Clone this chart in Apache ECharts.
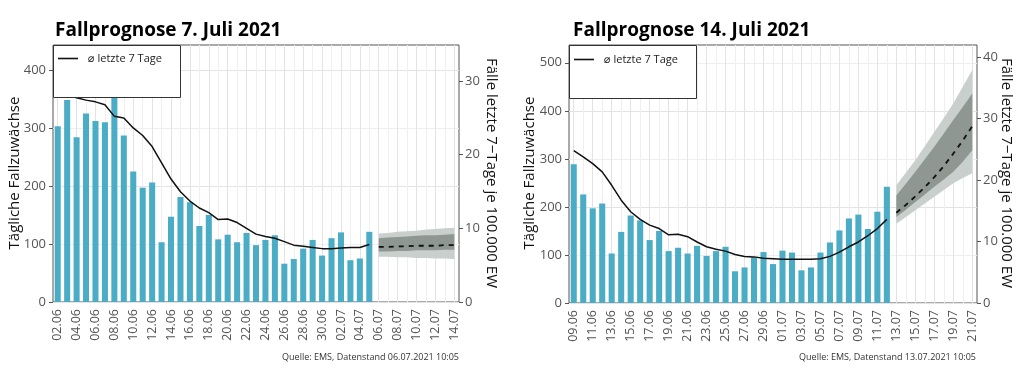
<!DOCTYPE html>
<html><head><meta charset="utf-8">
<script src="https://cdn.jsdelivr.net/npm/echarts@6/dist/echarts.min.js"></script>
<style>html,body{margin:0;padding:0;background:#fff}#c{width:1024px;height:371px}</style>
</head><body><div id="c"></div>
<script>
// ---- Panel A: Fallprognose 7. Juli 2021 ----
const datesA = ['02.06','03.06','04.06','05.06','06.06','07.06','08.06','09.06','10.06','11.06','12.06','13.06','14.06','15.06','16.06','17.06','18.06','19.06','20.06','21.06','22.06','23.06','24.06','25.06','26.06','27.06','28.06','29.06','30.06','01.07','02.07','03.07','04.07','05.07','06.07','07.07','08.07','09.07','10.07','11.07','12.07','13.07','14.07'];
const casesA = [303,348,284,325,312,310,365,287,225,197,206,103,147,181,172,131,150,108,116,103,119,98,107,115,66,74,92,107,80,110,120,72,75,121];
const avgA = [362,357,352,348,345,340,320,317,300,287,268,240,212,190,174,162,154,142,143,137,127,117,113,110,104,98,96,94,92,92,93,94,94,99];
const fcStartA = 34;
const fcA = [95,95,96,96,97,97,97,98,98];
const innerLoA = [87,87,88,88,89,89,89,90,90];
const innerHiA = [110,111,112,113,114,115,115,116,117];
const outerLoA = [78,78,77,77,76,76,75,75,74];
const outerHiA = [118,119,121,122,123,125,126,127,128];
const leftTicksA = [0,100,200,300,400];
const rightTicksA = [0,10,20,30];
const yMaxA = 443, ratioA = 12.7;

// ---- Panel B: Fallprognose 14. Juli 2021 ----
const datesB = ['09.06','10.06','11.06','12.06','13.06','14.06','15.06','16.06','17.06','18.06','19.06','20.06','21.06','22.06','23.06','24.06','25.06','26.06','27.06','28.06','29.06','30.06','01.07','02.07','03.07','04.07','05.07','06.07','07.07','08.07','09.07','10.07','11.07','12.07','13.07','14.07','15.07','16.07','17.07','18.07','19.07','20.07','21.07'];
const casesB = [289,226,197,207,103,148,182,172,131,150,108,115,103,119,98,108,117,66,74,95,106,81,109,105,68,74,105,126,151,176,184,154,190,242];
const avgB = [317,304,290,273,245,214,190,174,162,155,142,143,138,127,117,112,108,101,97,96,93,92,91,91,91,91,92,97,106,117,127,140,155,174];
const fcStartB = 34;
const fcB = [188,204,222,241,262,285,311,338,368];
const innerLoB = [179,194,210,226,242,257,273,294,318];
const innerHiB = [224,248,273,299,325,353,381,408,436];
const outerLoB = [165,179,193,207,221,235,249,260,270];
const outerHiB = [245,271,297,326,356,385,415,450,485];
const leftTicksB = [0,100,200,300,400,500];
const rightTicksB = [0,10,20,30,40];
const yMaxB = 537, ratioB = 12.81;

const legendName = '⌀ letzte 7 Tage';
const FONT = '"Open Sans", "DejaVu Sans", sans-serif';
const BAR = '#4bacc6', LIGHT = '#c9cfcc', DARK = '#8e9792', AX = '#555', TXT = '#555';

function pad(arr, start, total) {
  const out = new Array(total).fill(null);
  arr.forEach((v, i) => { out[start + i] = v; });
  return out;
}
function diff(hi, lo) { return hi.map((v, i) => v - lo[i]); }

function xAxisFor(grid, dates) {
  return {
    gridIndex: grid, type: 'category', data: dates, boundaryGap: true,
    axisLine: { show: false },
    axisTick: { interval: 1, alignWithLabel: true, length: 4, lineStyle: { color: AX } },
    axisLabel: { interval: 1, rotate: 90, margin: 7, fontSize: 12.5, color: TXT, fontFamily: FONT },
    splitLine: { show: true, interval: 0, alignWithLabel: true, lineStyle: { color: ['#e3e3e3', '#efefef'], width: 1 } }
  };
}
function yLeft(grid, max, ticks) {
  return {
    gridIndex: grid, type: 'value', min: 0, max: max, interval: 50, position: 'left',
    axisLine: { show: false },
    axisTick: { show: true, length: 4, customValues: ticks, lineStyle: { color: AX } },
    axisLabel: { customValues: ticks, fontSize: 13, color: TXT, margin: 7, fontFamily: FONT },
    splitLine: { show: true, lineStyle: { color: ['#e3e3e3', '#efefef'], width: 1 } }
  };
}
function yRight(grid, max, ticks) {
  return {
    gridIndex: grid, type: 'value', min: 0, max: max, interval: 10, position: 'right',
    axisLine: { show: false },
    axisTick: { show: true, length: 4, customValues: ticks, lineStyle: { color: AX } },
    axisLabel: { customValues: ticks, fontSize: 13, color: TXT, margin: 6, fontFamily: FONT },
    splitLine: { show: false }
  };
}
function seriesFor(xi, yi, n, cases, avg, fcStart, fc, oLo, oHi, iLo, iHi) {
  const base = { xAxisIndex: xi, yAxisIndex: yi, symbol: 'none', silent: true };
  return [
    Object.assign({}, base, { type: 'bar', data: pad(cases, 0, n), barWidth: '64%', itemStyle: { color: BAR } }),
    Object.assign({}, base, { type: 'line', stack: 'o' + xi, data: pad(oLo, fcStart, n), lineStyle: { opacity: 0 } }),
    Object.assign({}, base, { type: 'line', stack: 'o' + xi, data: pad(diff(oHi, oLo), fcStart, n), lineStyle: { opacity: 0 }, areaStyle: { color: LIGHT, opacity: 1 } }),
    Object.assign({}, base, { type: 'line', stack: 'i' + xi, data: pad(iLo, fcStart, n), lineStyle: { opacity: 0 } }),
    Object.assign({}, base, { type: 'line', stack: 'i' + xi, data: pad(diff(iHi, iLo), fcStart, n), lineStyle: { opacity: 0 }, areaStyle: { color: DARK, opacity: 1 } }),
    Object.assign({}, base, { type: 'line', data: pad(fc, fcStart, n), lineStyle: { color: '#111', width: 1.8, type: [5, 5] } }),
    Object.assign({}, base, { type: 'line', name: legendName, data: pad(avg, 0, n), lineStyle: { color: '#111', width: 1.5 }, itemStyle: { color: '#111' } })
  ];
}

const chart = echarts.init(document.getElementById('c'), null, { renderer: 'canvas' });
const legendCommon = {
  data: [{ name: legendName, icon: 'rect' }], itemWidth: 20, itemHeight: 1.6, z: 20,
  textStyle: { fontSize: 11, color: '#222', fontFamily: FONT, padding: [0, 0, 0, 5] },
  selectedMode: false, padding: 0
};
chart.setOption({
  animation: false,
  backgroundColor: '#fff',
  grid: [
    { left: 53, right: 565, top: 45, bottom: 69, show: true, borderColor: AX, borderWidth: 1, backgroundColor: '#fff' },
    { left: 569, right: 47, top: 45, bottom: 68, show: true, borderColor: AX, borderWidth: 1, backgroundColor: '#fff' }
  ],
  xAxis: [xAxisFor(0, datesA), xAxisFor(1, datesB)],
  yAxis: [yLeft(0, yMaxA, leftTicksA), yRight(0, yMaxA / ratioA, rightTicksA), yLeft(1, yMaxB, leftTicksB), yRight(1, yMaxB / ratioB, rightTicksB)],
  legend: [
    Object.assign({}, legendCommon, { left: 58, top: 53 }),
    Object.assign({}, legendCommon, { left: 574, top: 54 })
  ],
  series: [].concat(
    seriesFor(0, 0, datesA.length, casesA, avgA, fcStartA, fcA, outerLoA, outerHiA, innerLoA, innerHiA),
    seriesFor(1, 2, datesB.length, casesB, avgB, fcStartB, fcB, outerLoB, outerHiB, innerLoB, innerHiB)
  ),
  graphic: [
    { type: 'rect', z: 15, shape: { x: 53.5, y: 45.5, width: 127, height: 52 }, style: { fill: '#fff', stroke: '#333', lineWidth: 1 } },
    { type: 'rect', z: 15, shape: { x: 569.5, y: 45.5, width: 127, height: 53 }, style: { fill: '#fff', stroke: '#333', lineWidth: 1 } },
    { type: 'text', x: 55, y: 31, style: { text: 'Fallprognose 7. Juli 2021', font: 'bold 19px "Open Sans", sans-serif', fill: '#000', textVerticalAlign: 'middle' } },
    { type: 'text', x: 573, y: 31, style: { text: 'Fallprognose 14. Juli 2021', font: 'bold 19px "Open Sans", sans-serif', fill: '#000', textVerticalAlign: 'middle' } },
    { type: 'text', x: 15, y: 173, rotation: Math.PI / 2, style: { text: 'Tägliche Fallzuwächse', font: '15px "Open Sans", sans-serif', fill: '#111', textAlign: 'center', textVerticalAlign: 'middle' } },
    { type: 'text', x: 530, y: 173, rotation: Math.PI / 2, style: { text: 'Tägliche Fallzuwächse', font: '15px "Open Sans", sans-serif', fill: '#111', textAlign: 'center', textVerticalAlign: 'middle' } },
    { type: 'text', x: 491, y: 173, rotation: -Math.PI / 2, style: { text: 'Fälle letzte 7−Tage je 100.000 EW', font: '15px "Open Sans", sans-serif', fill: '#111', textAlign: 'center', textVerticalAlign: 'middle' } },
    { type: 'text', x: 1006, y: 173, rotation: -Math.PI / 2, style: { text: 'Fälle letzte 7−Tage je 100.000 EW', font: '15px "Open Sans", sans-serif', fill: '#111', textAlign: 'center', textVerticalAlign: 'middle' } },
    { type: 'text', x: 459, y: 357, style: { text: 'Quelle: EMS, Datenstand 06.07.2021 10:05', font: '9px "Open Sans", sans-serif', fill: '#333', textAlign: 'right', textVerticalAlign: 'middle' } },
    { type: 'text', x: 976, y: 357, style: { text: 'Quelle: EMS, Datenstand 13.07.2021 10:05', font: '9px "Open Sans", sans-serif', fill: '#333', textAlign: 'right', textVerticalAlign: 'middle' } }
  ]
});
</script>
</body></html>
